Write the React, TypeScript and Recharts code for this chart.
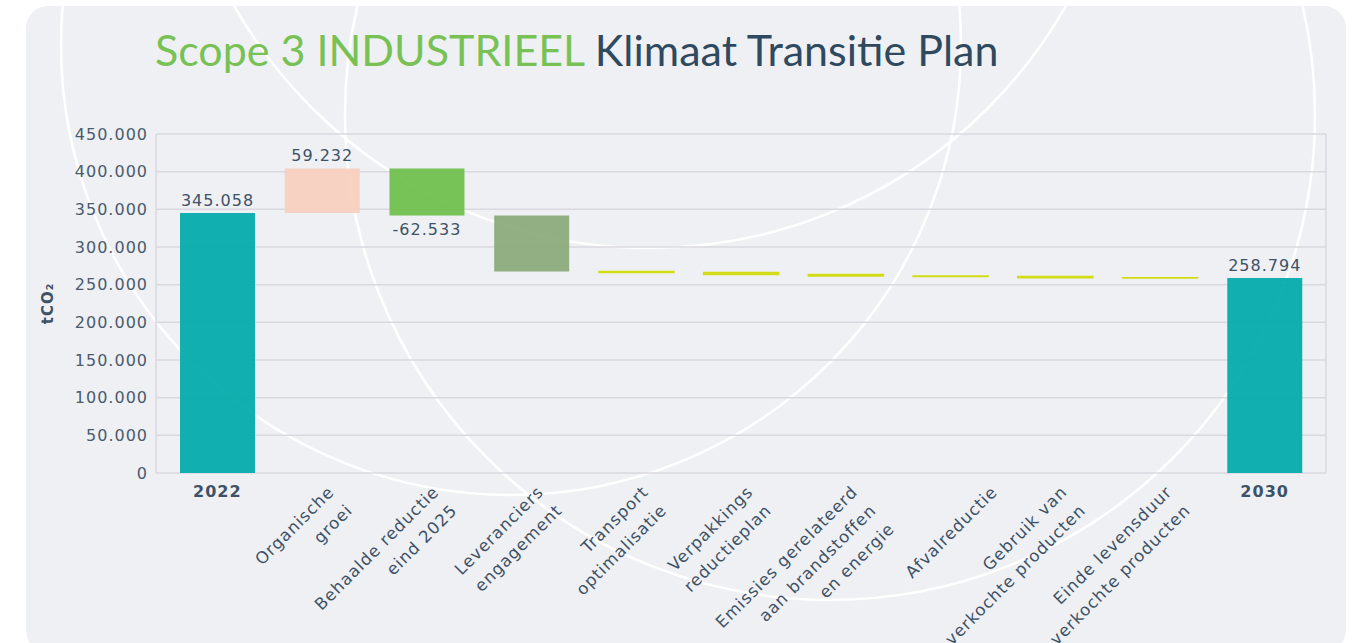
import React from 'react'
import { BarChart, Bar, XAxis, YAxis, CartesianGrid, Cell, LabelList } from 'recharts'

// categories (\n = line break in the rotated axis label)
const categories = [
  '2022',
  'Organische\ngroei',
  'Behaalde reductie\neind 2025',
  'Leveranciers\nengagement',
  'Transport\noptimalisatie',
  'Verpakkings\nreductieplan',
  'Emissies gerelateerd\naan brandstoffen\nen energie',
  'Afvalreductie',
  'Gebruik van\nverkochte producten',
  'Einde levensduur\nverkochte producten',
  '2030',
]
// totals for 2022/2030, deltas for the rest (tCO2)
const steps = [345058, 59232, -62533, -74400, -1300, -2500, -1900, -800, -1700, -363, 258794]
const isTotal = [true, false, false, false, false, false, false, false, false, false, true]
const showValue = [true, true, true, false, false, false, false, false, false, false, true]
const barColors = [
  '#00aaa9', '#f7cfbd', '#6fbf4b', '#8aaa78', '#d2dc14', '#d2dc14',
  '#d2dc14', '#d2dc14', '#d2dc14', '#d2dc14', '#00aaa9',
]
const yTicks = [0, 50000, 100000, 150000, 200000, 250000, 300000, 350000, 400000, 450000]

const fmt = (v: number) => {
  const s = Math.abs(Math.round(v)).toString().replace(/\B(?=(\d{3})+(?!\d))/g, '.')
  return (v < 0 ? '-' : '') + s
}

let running = 0
const rows = categories.map((name, i) => {
  const v = steps[i]
  if (isTotal[i]) {
    running = v
    return { name, range: [0, v], value: v, show: showValue[i] }
  }
  const start = running
  running += v
  return { name, range: [Math.min(start, running), Math.max(start, running)], value: v, show: showValue[i] }
})

const TEXT = '#3d5266'

const CatTick = (props: any) => {
  const { x, y, payload } = props
  const label: string = payload.value
  if (label === '2022' || label === '2030') {
    return (
      <text x={x} y={y + 16} textAnchor="middle" fill={TEXT} fontSize={16} fontWeight="bold">
        {label}
      </text>
    )
  }
  const lines = label.split('\n')
  const shift = lines.length === 1 ? 35 : 0
  return (
    <g transform={`translate(${x + 13 + shift},${y + 12}) rotate(-45)`}>
      <text textAnchor="end" fill={TEXT} fontSize={16.5}>
        {lines.map((l, i) => (
          <tspan key={i} x={0} y={i * 26}>{l}</tspan>
        ))}
      </text>
    </g>
  )
}

const ValueLabel = (p: any) => {
  const { x, y, width, height, value } = p
  if (value == null) return null
  const cx = x + width / 2
  const top = Math.min(y, y + height)
  const bottom = Math.max(y, y + height)
  return (
    <text x={cx} y={value < 0 ? bottom + 19 : top - 7} textAnchor="middle" fill={TEXT} fontSize={16}>
      {fmt(value)}
    </text>
  )
}

const YLabel = (p: any) => {
  const vb = p.viewBox
  const cx = vb.x + 53
  const cy = vb.y + vb.height / 2
  return (
    <text x={cx} y={cy} transform={`rotate(-90 ${cx} ${cy})`} textAnchor="middle" fill={TEXT} fontSize={15} fontWeight="bold">
      tCO₂
    </text>
  )
}

export default function App() {
  return (
    <div style={{ position: 'absolute', left: 0, top: 0, width: 1361, height: 643, background: '#fff', overflow: 'hidden' }}>
      <svg width={1361} height={643} style={{ position: 'absolute', left: 0, top: 0 }}>
        <defs>
          <clipPath id="card">
            <rect x={26} y={6} width={1320} height={646} rx={22} />
          </clipPath>
        </defs>
        <rect x={26} y={6} width={1320} height={646} rx={22} fill="#eff0f4" />
        {/* decorative rings */}
        <g clipPath="url(#card)" fill="none" stroke="#ffffff" strokeWidth={2.5}>
          <circle cx={511} cy={45} r={450} />
          <circle cx={830} cy={115} r={485} />
          <circle cx={650} cy={-230} r={478} />
        </g>
        <text x={155} y={66} fontFamily="Lato" fontWeight={400} fontSize={43}>
          <tspan fill="#78c255">Scope 3 INDUSTRIEEL</tspan>
          <tspan fill="#2f4a5f"> Klimaat Transitie Plan</tspan>
        </text>
      </svg>
      <div style={{ position: 'absolute', left: 0, top: 0, fontFamily: 'DejaVu Sans', letterSpacing: 1 }}>
        <BarChart width={1361} height={643} data={rows} margin={{ top: 134, right: 35, left: 0, bottom: 0 }}>
          <CartesianGrid
            stroke="#d8d9df"
            strokeWidth={1.5}
            verticalCoordinatesGenerator={({ offset }: any) => [offset.left, offset.left + offset.width]}
          />
          <XAxis
            dataKey="name"
            interval={0}
            height={170}
            tickLine={false}
            axisLine={false}
            padding={{ left: 9, right: 9 }}
            tick={<CatTick />}
          />
          <YAxis
            width={156}
            domain={[0, 450000]}
            ticks={yTicks}
            tickFormatter={fmt}
            tickLine={false}
            axisLine={false}
            tick={{ fill: '#4a5b6d', fontSize: 16 }}
            label={<YLabel />}
          />
          <Bar dataKey="range" barSize={75} isAnimationActive={false} fillOpacity={0.93}>
            {rows.map((r, i) => {
              const minor = !isTotal[i] && Math.abs(steps[i]) < 10000
              return (
                <Cell
                  key={r.name}
                  fill={barColors[i]}
                  stroke={minor ? barColors[i] : 'none'}
                  strokeWidth={minor ? 1.5 : 0}
                />
              )
            })}
            <LabelList dataKey={(d: any) => (d.show ? d.value : null)} content={<ValueLabel />} />
          </Bar>
        </BarChart>
      </div>
    </div>
  )
}
